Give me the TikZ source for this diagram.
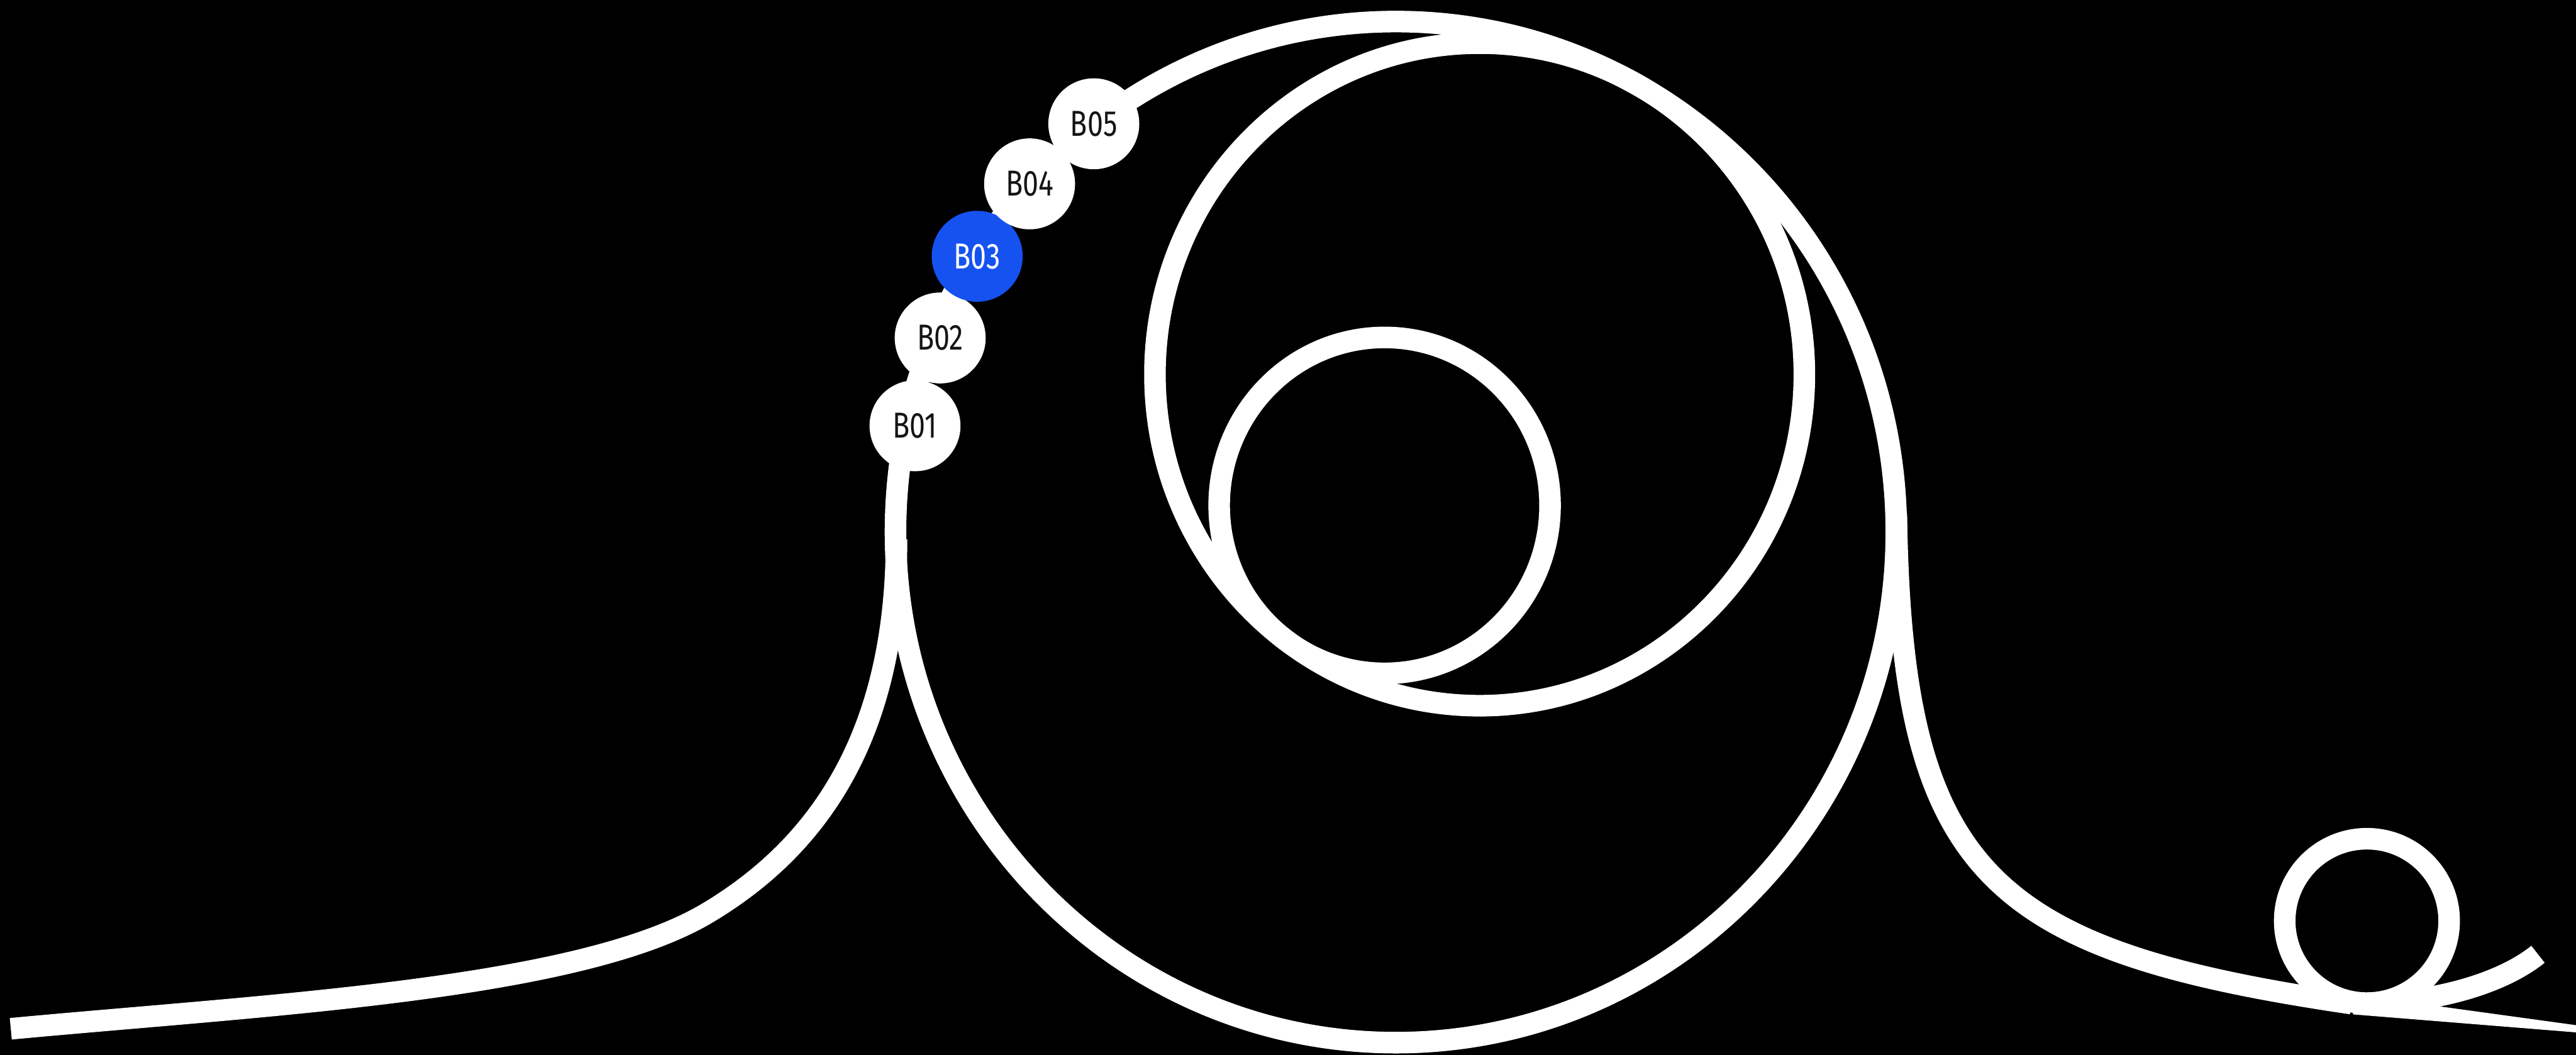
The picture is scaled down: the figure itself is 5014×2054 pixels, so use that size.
\documentclass[tikz,border=0pt]{standalone}
\usepackage{fontspec}
\newfontfamily\beadfont[FakeStretch=0.78]{Fira Sans}
\definecolor{beadblue}{RGB}{21,82,240}
\definecolor{beadtext}{RGB}{20,20,20}
\begin{document}
\begin{tikzpicture}[x=0.2mm,y=-0.2mm,
  track/.style={draw=white, line width=8.4mm, line cap=butt},
  bead/.style={circle, fill=white, text=beadtext, minimum size=35.4mm, inner sep=0pt,
    font=\beadfont\fontsize{40}{48}\selectfont},
  beadhi/.style={bead, fill=beadblue, text=white}]
\fill[black] (0,0) rectangle (5014,2054);
\useasboundingbox (0,0) rectangle (5014,2054);

% big loop, medium and small circles
\draw[track] (2717,1036) ellipse [x radius=194.8mm, y radius=198.8mm];
\draw[track] (2880,729) ellipse [x radius=126.4mm, y radius=129mm];
\draw[track] (2695,984) ellipse [x radius=64.4mm, y radius=65.4mm];

% left approach
\draw[track] (21,2003) .. controls (521,1956) and (1128,1927) .. (1378,1777)
  .. controls (1578,1657) and (1745,1450) .. (1745,1050);

% right exit
\draw[track] (3691,1000) .. controls (3701,1700) and (3870,1850) .. (4577,1954);
\fill[white] (4577,1936) -- (4767,1962) -- (5014,1996) -- (5014,2010) -- (4580,1975) -- cycle;

% small loop and tail
\draw[track] (4607,1793) circle [radius=32mm];
\draw[track] (4607,1953) .. controls (4720,1953) and (4860,1922) .. (4940,1858);

% beads
\node[bead]   (b1) at (1781,829) {B01};
\node[bead]   (b2) at (1830,658) {B02};
\node[beadhi] (b3) at (1902,499) {B03};
\node[bead]   (b4) at (2004,358) {B04};
\node[bead]   (b5) at (2129,241) {B05};
\end{tikzpicture}
\end{document}
